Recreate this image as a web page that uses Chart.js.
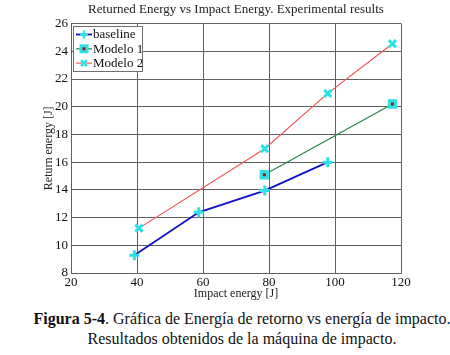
<!DOCTYPE html>
<html>
<head>
<meta charset="utf-8">
<script src="https://cdn.jsdelivr.net/npm/chart.js@4"></script>
<style>
  body { margin: 0; background: #fff; width: 450px; height: 355px; overflow: hidden; position: relative; }
  #grafico { position: absolute; left: 0; top: 0; }
  .caption { position: absolute; left: 0; top: 309px; width: 484px; text-align: center;
             font-family: 'Liberation Serif', 'DejaVu Serif', serif; font-size: 16px; line-height: 20px; color: #111; }
</style>
</head>
<body>
<canvas id="grafico" width="450" height="305"></canvas>
<div class="caption"><b>Figura 5-4</b>. Gráfica de Energía de retorno vs energía de impacto.<br>Resultados obtenidos de la máquina de impacto.</div>
<script>
// Datos
const seriesNames = ['baseline', 'Modelo 1', 'Modelo 2'];
const baselineX = [39.2, 58.7, 78.7, 97.8];
const baselineY = [9.28, 12.38, 13.95, 16.0];
const modelo1X = [78.6, 117.4];
const modelo1Y = [15.09, 20.2];
const modelo2X = [40.6, 78.7, 97.8, 117.4];
const modelo2Y = [11.24, 16.97, 20.96, 24.55];
const xTicks = [20, 40, 60, 80, 100, 120];
const yTicks = [8, 10, 12, 14, 16, 18, 20, 22, 24, 26];

const serif = 'Liberation Serif';
const cyan = '#30e0e8';

function pares(xs, ys) {
    return xs.map((x, i) => ({ x: x, y: ys[i] }));
}

const estilos = [
    { line: '#1010c8', width: 1.8, marker: 'cross' },
    { line: '#2a8a4a', width: 1.3, marker: 'rect' },
    { line: '#f05050', width: 1.1, marker: 'crossRot' }
];

// Leyenda dentro del área del gráfico, arriba a la izquierda
const leyendaPlugin = {
    id: 'leyenda',
    afterDatasetsDraw(chart) {
        const ctx = chart.ctx;
        // cuadrito rojo dentro de los marcadores del Modelo 1
        chart.getDatasetMeta(1).data.forEach(p => {
            ctx.fillStyle = '#a01818';
            ctx.fillRect(p.x - 1.5, p.y - 1.5, 3, 3);
        });

        const x0 = 73, y0 = 26, w = 69, h = 45;
        ctx.save();
        ctx.fillStyle = '#fff';
        ctx.fillRect(x0, y0, w, h);
        ctx.strokeStyle = '#707070';
        ctx.lineWidth = 1;
        ctx.strokeRect(x0 + 0.5, y0 + 0.5, w, h);
        seriesNames.forEach((nombre, i) => {
            const y = y0 + 8.5 + i * 14.3;
            const st = estilos[i];
            ctx.strokeStyle = st.line;
            ctx.lineWidth = st.width;
            ctx.beginPath();
            ctx.moveTo(x0 + 3, y);
            ctx.lineTo(x0 + 19, y);
            ctx.stroke();
            ctx.strokeStyle = cyan;
            ctx.fillStyle = cyan;
            ctx.lineWidth = 2.5;
            const cx = x0 + 11;
            if (st.marker === 'cross') {
                ctx.beginPath();
                ctx.moveTo(cx - 4, y); ctx.lineTo(cx + 4, y);
                ctx.moveTo(cx, y - 4); ctx.lineTo(cx, y + 4);
                ctx.stroke();
            } else if (st.marker === 'rect') {
                ctx.fillRect(cx - 4.5, y - 4.5, 9, 9);
                ctx.fillStyle = '#a01818';
                ctx.fillRect(cx - 1.5, y - 1.5, 3, 3);
            } else {
                ctx.beginPath();
                ctx.moveTo(cx - 3, y - 3); ctx.lineTo(cx + 3, y + 3);
                ctx.moveTo(cx + 3, y - 3); ctx.lineTo(cx - 3, y + 3);
                ctx.stroke();
            }
            ctx.fillStyle = '#111';
            ctx.font = '13px "' + serif + '"';
            ctx.textBaseline = 'middle';
            ctx.textAlign = 'left';
            ctx.fillText(nombre, x0 + 20, y + 0.5);
        });
        ctx.restore();
    }
};

const datos = [
    pares(baselineX, baselineY),
    pares(modelo1X, modelo1Y),
    pares(modelo2X, modelo2Y)
];

const ctxGrafico = document.getElementById('grafico').getContext('2d');
const grafico = new Chart(ctxGrafico, {
    type: 'line',
    data: {
        datasets: seriesNames.map((nombre, i) => ({
            label: nombre,
            data: datos[i],
            borderColor: estilos[i].line,
            borderWidth: estilos[i].width,
            pointStyle: estilos[i].marker,
            pointRadius: estilos[i].marker === 'rect' ? 6 : 5,
            pointBorderColor: cyan,
            pointBackgroundColor: cyan,
            pointBorderWidth: estilos[i].marker === 'rect' ? 1 : 3,
            tension: 0,
            fill: false
        }))
    },
    options: {
        responsive: false,
        animation: false,
        devicePixelRatio: 1,
        layout: { padding: { left: 0, right: 49, top: 0, bottom: 0 } },
        plugins: {
            legend: { display: false },
            tooltip: { enabled: false },
            title: {
                display: true,
                fullSize: false,
                text: 'Returned Energy vs Impact Energy. Experimental results',
                color: '#222',
                font: { family: serif, size: 13, weight: 'normal' },
                padding: { top: 2, bottom: 6 }
            }
        },
        scales: {
            x: {
                type: 'linear',
                min: 20,
                max: 120,
                afterFit: s => { s.height = 32; },
                afterBuildTicks: s => { s.ticks = xTicks.map(v => ({ value: v })); },
                ticks: { color: '#111', font: { family: serif, size: 13 }, padding: 2, maxRotation: 0 },
                grid: { color: '#606060', drawTicks: false },
                border: { color: '#606060' },
                title: {
                    display: true,
                    text: 'Impact energy [J]',
                    color: '#222',
                    font: { family: serif, size: 12 },
                    padding: { top: 0, bottom: 4 }
                }
            },
            y: {
                type: 'linear',
                min: 8,
                max: 26,
                afterFit: s => { s.width = 71; },
                afterBuildTicks: s => { s.ticks = yTicks.map(v => ({ value: v })); },
                ticks: { color: '#111', font: { family: serif, size: 13 }, padding: 3 },
                grid: { color: '#606060', drawTicks: false },
                border: { color: '#606060' },
                title: {
                    display: true,
                    text: 'Return energy [J]',
                    color: '#222',
                    font: { family: serif, size: 12 },
                    padding: { top: 42, bottom: 0 }
                }
            }
        }
    },
    plugins: [leyendaPlugin]
});
</script>
</body>
</html>
